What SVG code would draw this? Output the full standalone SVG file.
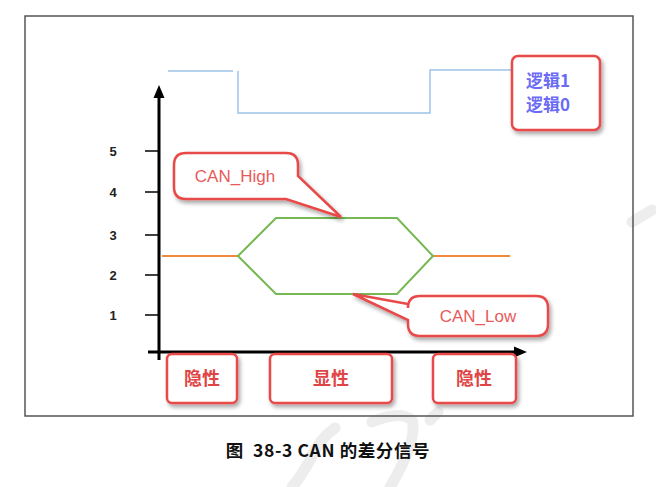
<svg xmlns="http://www.w3.org/2000/svg" width="656" height="487" viewBox="0 0 656 487">
<defs>
<filter id="sh" x="-20%" y="-20%" width="150%" height="160%">
<feGaussianBlur in="SourceAlpha" stdDeviation="2"/>
<feOffset dx="2" dy="3" result="b"/>
<feComponentTransfer><feFuncA type="linear" slope="0.35"/></feComponentTransfer>
<feMerge><feMergeNode/><feMergeNode in="SourceGraphic"/></feMerge>
</filter>
</defs>
<style>
.call{fill:#fff;stroke:#e84848;stroke-width:2.5;filter:url(#sh)}
.ct{font-family:"Liberation Sans",Arial,sans-serif;font-size:17px;fill:#e85a5a;text-anchor:middle}
.bt{font-family:"Noto Sans CJK SC",sans-serif;font-size:18px;font-weight:bold;fill:#e04545;text-anchor:middle}
.lt{font-family:"Noto Sans CJK SC",sans-serif;font-size:17px;font-weight:bold;fill:#6a6af5}
.tk{font-family:"Liberation Sans",Arial,sans-serif;font-size:13px;font-weight:bold;fill:#222;text-anchor:middle}
.wm{fill:none;stroke:#ededed;stroke-width:11;stroke-linecap:round}
</style>
<rect width="656" height="487" fill="#fff"/>
<!-- watermark -->
<path class="wm" d="M632,222 L652,210"/>
<path class="wm" d="M335,428 Q318,440 310,460 Q300,478 292,487"/>
<path class="wm" d="M372,422 Q400,410 412,420 Q418,440 390,487"/>
<path class="wm" d="M430,420 L438,412"/>
<rect x="25" y="16" width="608" height="400" fill="none" stroke="#555" stroke-width="1.5"/>
<g id="axes">
<line x1="159" y1="360" x2="159" y2="95" stroke="#000" stroke-width="3"/>
<path d="M153.5,98 L159,85 L164.5,98 Z" fill="#000"/>
<line x1="148" y1="352" x2="516" y2="352" stroke="#000" stroke-width="3"/>
<path d="M514,346.5 L527,352 L514,357.5 Z" fill="#000"/>
<g stroke="#000" stroke-width="1.5">
<line x1="145" y1="151" x2="159" y2="151"/>
<line x1="145" y1="192" x2="159" y2="192"/>
<line x1="145" y1="235" x2="159" y2="235"/>
<line x1="145" y1="275" x2="159" y2="275"/>
<line x1="145" y1="315" x2="159" y2="315"/>
</g>
<text class="tk" x="113" y="156">5</text>
<text class="tk" x="113" y="197">4</text>
<text class="tk" x="113" y="240">3</text>
<text class="tk" x="113" y="280">2</text>
<text class="tk" x="113" y="320">1</text>
</g>
<g id="connectors">
<polyline points="168,71 233,71" fill="none" stroke="#9cc2e8" stroke-width="1.5"/>
<polyline points="238,71 238,113 430,113 430,70 512,70" fill="none" stroke="#9cc2e8" stroke-width="1.5"/>
<line x1="162" y1="256" x2="238" y2="256" stroke="#f08a3c" stroke-width="2"/>
<line x1="433" y1="256" x2="510" y2="256" stroke="#f08a3c" stroke-width="2"/>
<polygon points="238,256 276,218 397,218 433,256 397,294 276,294" fill="none" stroke="#76b852" stroke-width="2"/>
</g>
<g id="logic">
<rect class="call" x="512" y="56" width="88" height="74" rx="6"/>
<text class="lt" x="526" y="87">逻辑1</text>
<text class="lt" x="526" y="111">逻辑0</text>
</g>
<g id="can-high">
<path class="call" d="M186,153 H286 Q298,153 298,165 V176 L341,217 L286,199 H186 Q174,199 174,187 V165 Q174,153 186,153 Z"/>
<text class="ct" x="235" y="182">CAN_High</text>
</g>
<g id="can-low">
<path class="call" d="M420,296 H536 Q548,296 548,308 V324 Q548,336 536,336 H420 Q408,336 408,324 V320 L353,294 L408,304 V308 Q408,296 420,296 Z"/>
<text class="ct" x="478" y="322">CAN_Low</text>
</g>
<g id="recessive1">
<rect class="call" x="167" y="354" width="70" height="49" rx="5"/>
<text class="bt" x="202" y="385">隐性</text>
</g>
<g id="dominant">
<rect class="call" x="270" y="354" width="122" height="49" rx="5"/>
<text class="bt" x="331" y="385">显性</text>
</g>
<g id="recessive2">
<rect class="call" x="433" y="354" width="83" height="49" rx="5"/>
<text class="bt" x="474" y="385">隐性</text>
</g>
<text x="328" y="457" xml:space="preserve" font-family="'Noto Sans CJK SC',sans-serif" font-size="17.5" font-weight="bold" fill="#111" text-anchor="middle" letter-spacing="0.6">图  38-3 CAN 的差分信号</text>
</svg>
